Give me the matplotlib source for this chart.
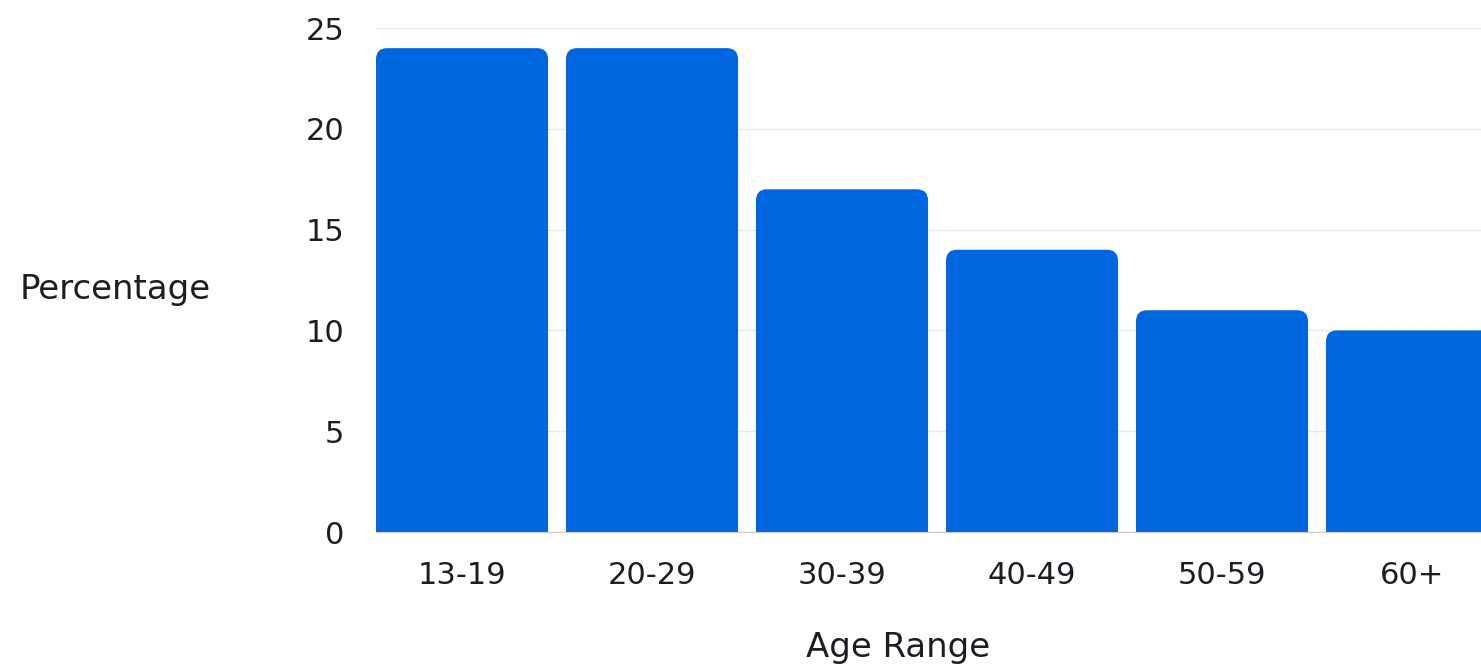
import matplotlib
matplotlib.use("Agg")
import matplotlib.pyplot as plt
from matplotlib.patches import FancyBboxPatch, Rectangle

categories = ["13-19", "20-29", "30-39", "40-49", "50-59", "60+"]
values = [24, 24, 17, 14, 11, 10]
yticks = [0, 5, 10, 15, 20, 25]

plt.rcParams['font.family'] = ['DejaVu Sans']

W, H = 1481, 670
fig = plt.figure(figsize=(W / 100, H / 100), dpi=100)
left_px, right_px = 376, 1481
bot_px, top_px = 532, 28
ax = fig.add_axes([left_px / W, (H - bot_px) / H, (right_px - left_px) / W, (bot_px - top_px) / H])

bar_w = 172 / 190
color = "#0066dd"
bars = ax.bar(range(len(categories)), values, width=bar_w, color=color)
ax.set_ylim(0, 25)
ax.set_xlim(-bar_w / 2, -bar_w / 2 + (right_px - left_px) / 190)

# round top corners
px_x = 1 / 190.0
px_y = 25 / (bot_px - top_px)
r_px = 11
for b in bars:
    x, y = b.get_x(), b.get_y()
    w, h = b.get_width(), b.get_height()
    b.set_visible(False)
    rs = r_px * px_x
    asp = (r_px * px_y) / rs
    ax.add_patch(FancyBboxPatch((x, y), w, h, boxstyle=f"round,pad=0,rounding_size={rs}",
                                mutation_aspect=asp, facecolor=color, edgecolor="none", zorder=2))
    ax.add_patch(Rectangle((x, y), w, h / 2, facecolor=color, edgecolor="none", zorder=2))

ax.set_yticks(yticks)
ax.set_xticks(range(len(categories)))
ax.set_xticklabels(categories)
ax.tick_params(axis='both', length=0, labelsize=22, colors="#1c1e24")
ax.tick_params(axis='y', pad=23)
ax.tick_params(axis='x', pad=21)
ax.grid(axis='y', color="#e8e8e8", linewidth=1)
ax.set_axisbelow(True)
for s in ["top", "right", "left"]:
    ax.spines[s].set_visible(False)
ax.spines["bottom"].set_color("#c8c8c8")
ax.spines["bottom"].set_zorder(3)

fig.text(20 / W, 1 - 290 / H, "Percentage", fontsize=24.5, color="#1c1e24", ha="left", va="center")
fig.text(898 / W, 1 - 647 / H, "Age Range", fontsize=24.5, color="#1c1e24", ha="center", va="center")

fig.savefig("out.png", dpi=100, facecolor="white")
